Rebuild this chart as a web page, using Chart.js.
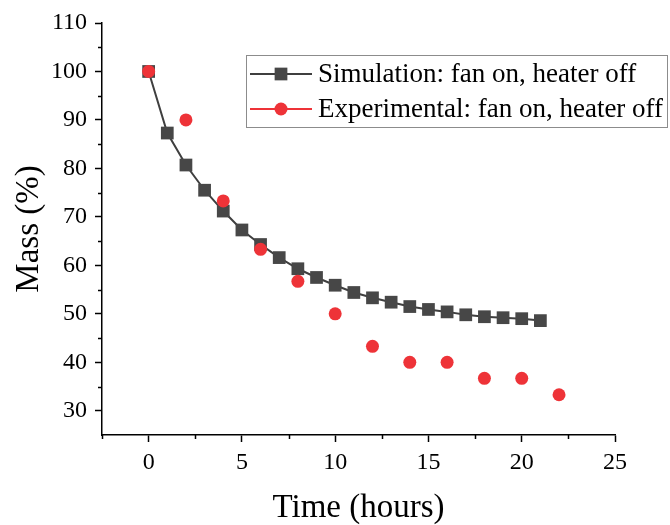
<!DOCTYPE html>
<html>
<head>
<meta charset="utf-8">
<script src="https://cdn.jsdelivr.net/npm/chart.js@4.4.1/dist/chart.umd.min.js"></script>
<style>
  html, body { margin: 0; padding: 0; background: #fff; }
  #wrap { width: 670px; height: 525px; }
</style>
</head>
<body>
<div id="wrap"><canvas id="c" width="670" height="525"></canvas></div>
<script>
// Mass loss over time: simulation vs experiment (fan on, heater off)

const simHours = [0, 1, 2, 3, 4, 5, 6, 7, 8, 9, 10, 11, 12, 13, 14, 15, 16, 17, 18, 19, 20, 21];
const simMass  = [100, 87.3, 80.7, 75.5, 71.2, 67.3, 64.3, 61.6, 59.3, 57.5, 55.9, 54.4, 53.3, 52.4, 51.5, 50.9, 50.4, 49.8, 49.4, 49.2, 49.0, 48.6];

const expHours = [0, 2, 4, 6, 8, 10, 12, 14, 16, 18, 20, 22];
const expMass  = [100, 90, 73.3, 63.3, 56.7, 50, 43.3, 40, 40, 36.7, 36.7, 33.3];

const seriesLabels = ['Simulation: fan on, heater off', 'Experimental: fan on, heater off'];

const SERIF = "'Liberation Serif', 'Times New Roman', serif";
const GRAY = '#474747';
const LINE_GRAY = '#3f3f3f';
const RED = '#EE3338';

const X_MAJOR = 5, Y_MAJOR = 10;

const toPoints = (xs, ys) => xs.map((x, i) => ({ x, y: ys[i] }));
const onStep = (v, step) => Math.abs(v % step) < 1e-9;

// short minor ticks (Chart.js has no native minor ticks)
const minorTicks = {
  id: 'minorTicks',
  afterDraw(chart) {
    const { ctx, chartArea } = chart;
    const xs = chart.scales.x, ys = chart.scales.y;
    ctx.save();
    ctx.strokeStyle = '#000';
    ctx.lineWidth = 1.5;
    ctx.beginPath();
    xs.ticks.filter(t => !onStep(t.value, X_MAJOR)).forEach(t => {
      const px = Math.round(xs.getPixelForValue(t.value)) + 0.5;
      ctx.moveTo(px, chartArea.bottom);
      ctx.lineTo(px, chartArea.bottom + 4);
    });
    ys.ticks.filter(t => !onStep(t.value, Y_MAJOR) && t.value > ys.min).forEach(t => {
      const py = Math.round(ys.getPixelForValue(t.value)) + 0.5;
      ctx.moveTo(chartArea.left, py);
      ctx.lineTo(chartArea.left - 4, py);
    });
    ctx.stroke();
    ctx.restore();
  }
};

// boxed legend inside the plot, line + marker samples
const legendBox = {
  id: 'legendBox',
  afterDraw(chart) {
    const ctx = chart.ctx;
    ctx.save();
    ctx.strokeStyle = '#8c8c8c';
    ctx.lineWidth = 1;
    ctx.strokeRect(246.5, 55.5, 421, 72);
    chart.data.datasets.forEach((ds, i) => {
      const y = 74 + i * 35;
      ctx.strokeStyle = ds.legendLine;
      ctx.lineWidth = 2;
      ctx.beginPath();
      ctx.moveTo(250, y);
      ctx.lineTo(312, y);
      ctx.stroke();
      ctx.fillStyle = ds.pointBackgroundColor;
      Chart.helpers.drawPoint(ctx, { pointStyle: ds.pointStyle, radius: ds.pointRadius, borderWidth: 0, rotation: 0 }, 281, y);
      ctx.fillStyle = '#000';
      ctx.font = '27px ' + SERIF;
      ctx.textBaseline = 'middle';
      ctx.textAlign = 'left';
      ctx.fillText(ds.label, 318, y + 1);
    });
    ctx.restore();
  }
};

const tickFont = { family: SERIF, size: 24 };
const titleFont = { family: SERIF, size: 33, lineHeight: 1 };

new Chart(document.getElementById('c'), {
  type: 'scatter',
  data: {
    datasets: [
      {
        label: seriesLabels[0],
        data: toPoints(simHours, simMass),
        showLine: true,
        borderColor: LINE_GRAY,
        borderWidth: 2,
        pointStyle: 'rect',
        pointRadius: 9,
        pointHoverRadius: 9,
        pointBackgroundColor: GRAY,
        pointBorderWidth: 0,
        legendLine: LINE_GRAY,
        order: 2
      },
      {
        label: seriesLabels[1],
        data: toPoints(expHours, expMass),
        showLine: false,
        pointStyle: 'circle',
        pointRadius: 6.5,
        pointHoverRadius: 6.5,
        pointBackgroundColor: RED,
        pointBorderWidth: 0,
        legendLine: RED,
        order: 1
      }
    ]
  },
  options: {
    responsive: false,
    animation: false,
    devicePixelRatio: 1,
    layout: { padding: { top: 23, right: 55, left: 0, bottom: 0 } },
    plugins: {
      legend: { display: false },
      tooltip: { enabled: false }
    },
    scales: {
      x: {
        type: 'linear',
        min: -2.5,
        max: 25,
        afterFit: s => { s.height = 90; },
        border: { display: true, color: '#000', width: 1.5 },
        grid: {
          drawOnChartArea: false,
          drawTicks: true,
          tickLength: 7,
          tickWidth: 1.5,
          tickColor: c => onStep(c.tick.value, X_MAJOR) ? '#000' : 'rgba(0,0,0,0)'
        },
        ticks: {
          stepSize: 2.5,
          autoSkip: false,
          maxRotation: 0,
          padding: 6,
          color: '#000',
          font: tickFont,
          callback: v => onStep(v, X_MAJOR) ? v : ''
        },
        title: { display: true, text: 'Time (hours)', color: '#000', font: titleFont, padding: { top: 0, bottom: 0 } }
      },
      y: {
        min: 25,
        max: 110,
        afterFit: s => { s.width = 102; },
        border: { display: true, color: '#000', width: 1.5 },
        grid: {
          drawOnChartArea: false,
          drawTicks: true,
          tickLength: 7,
          tickWidth: 1.5,
          tickColor: c => onStep(c.tick.value, Y_MAJOR) ? '#000' : 'rgba(0,0,0,0)'
        },
        ticks: {
          stepSize: 5,
          autoSkip: false,
          padding: 8,
          color: '#000',
          font: tickFont,
          callback: v => onStep(v, Y_MAJOR) ? v : ''
        },
        title: { display: true, text: 'Mass (%)', color: '#000', font: titleFont, padding: { top: 13, bottom: 0 } }
      }
    }
  },
  plugins: [minorTicks, legendBox]
});
</script>
</body>
</html>
